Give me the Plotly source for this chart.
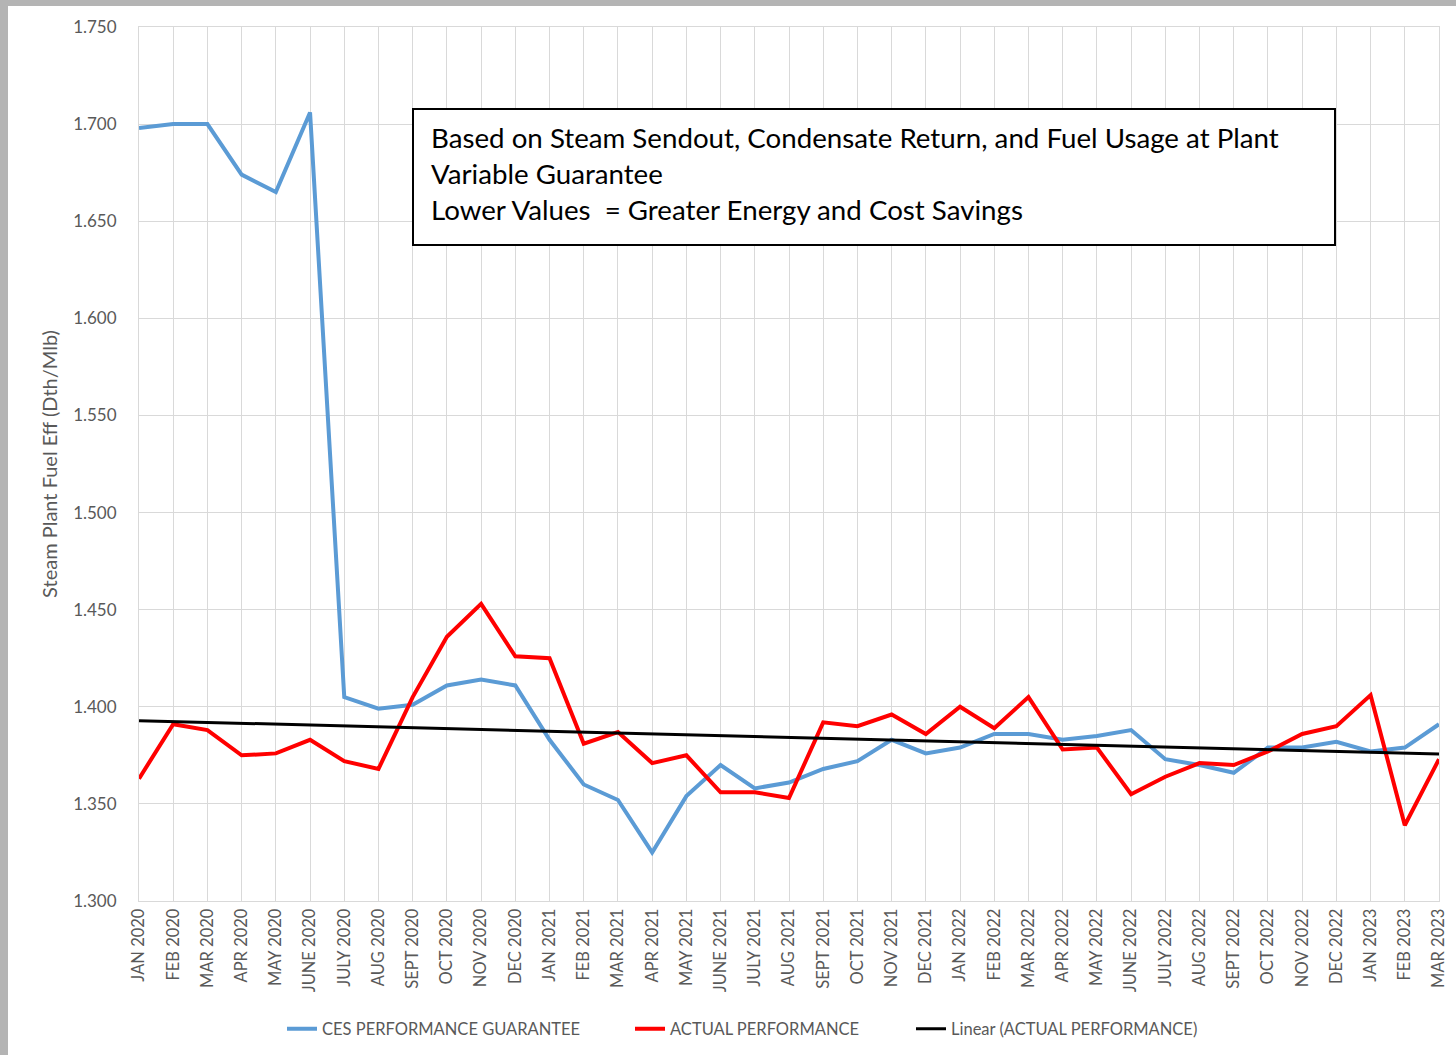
import numpy as np
import plotly.graph_objects as go

months = ["JAN 2020", "FEB 2020", "MAR 2020", "APR 2020", "MAY 2020", "JUNE 2020", "JULY 2020",
          "AUG 2020", "SEPT 2020", "OCT 2020", "NOV 2020", "DEC 2020", "JAN 2021", "FEB 2021",
          "MAR 2021", "APR 2021", "MAY 2021", "JUNE 2021", "JULY 2021", "AUG 2021", "SEPT 2021",
          "OCT 2021", "NOV 2021", "DEC 2021", "JAN 2022", "FEB 2022", "MAR 2022", "APR 2022",
          "MAY 2022", "JUNE 2022", "JULY 2022", "AUG 2022", "SEPT 2022", "OCT 2022", "NOV 2022",
          "DEC 2022", "JAN 2023", "FEB 2023", "MAR 2023"]

guarantee = [1.698, 1.700, 1.700, 1.674, 1.665, 1.706, 1.405, 1.399, 1.401, 1.411, 1.414, 1.411,
             1.383, 1.360, 1.352, 1.325, 1.354, 1.370, 1.358, 1.361, 1.368, 1.372, 1.383, 1.376,
             1.379, 1.386, 1.386, 1.383, 1.385, 1.388, 1.373, 1.370, 1.366, 1.379, 1.379, 1.382,
             1.377, 1.379, 1.391]

actual = [1.363, 1.391, 1.388, 1.375, 1.376, 1.383, 1.372, 1.368, 1.405, 1.436, 1.453, 1.426,
          1.425, 1.381, 1.387, 1.371, 1.375, 1.356, 1.356, 1.353, 1.392, 1.390, 1.396, 1.386,
          1.400, 1.389, 1.405, 1.378, 1.379, 1.355, 1.364, 1.371, 1.370, 1.377, 1.386, 1.390,
          1.406, 1.339, 1.373]

y_ticks = [1.300, 1.350, 1.400, 1.450, 1.500, 1.550, 1.600, 1.650, 1.700, 1.750]

note_lines = ["Based on Steam Sendout, Condensate Return, and Fuel Usage at Plant",
              "Variable Guarantee",
              "Lower Values  = Greater Energy and Cost Savings"]

# Linear trendline of actual performance (as Excel computes it)
idx = np.arange(1, len(actual) + 1)
slope, intercept = np.polyfit(idx, actual, 1)
trend = (slope * idx + intercept).tolist()

FONT = "Lato, 'Open Sans', sans-serif"
GRID = "#d9d9d9"
TXT = "#595959"

W, H = 1456, 1055
L, R, T, B = 139, 17, 27, 154
pw, ph = W - L - R, H - T - B


def px2x(px):
    return (px - L) / pw


def px2y(py):
    return (H - B - py) / ph


fig = go.Figure()
fig.add_trace(go.Scatter(x=months, y=guarantee, mode="lines", name="CES PERFORMANCE GUARANTEE",
                         line=dict(color="#5B9BD5", width=4), legend="legend"))
fig.add_trace(go.Scatter(x=months, y=actual, mode="lines", name="ACTUAL PERFORMANCE",
                         line=dict(color="#FF0000", width=4), legend="legend2"))
fig.add_trace(go.Scatter(x=months, y=trend, mode="lines", name="Linear (ACTUAL PERFORMANCE)",
                         line=dict(color="#000000", width=3), legend="legend3"))

shapes = [
    # grey screenshot frame (top and left)
    dict(type="rect", xref="paper", yref="paper", x0=px2x(0), x1=px2x(8), y0=px2y(H), y1=px2y(0),
         fillcolor="#b4b4b4", line=dict(width=0), layer="below"),
    dict(type="rect", xref="paper", yref="paper", x0=px2x(0), x1=px2x(W), y0=px2y(6), y1=px2y(0),
         fillcolor="#b4b4b4", line=dict(width=0), layer="below"),
    # note box
    dict(type="rect", xref="paper", yref="paper", x0=px2x(413), x1=px2x(1335), y0=px2y(245), y1=px2y(109),
         fillcolor="white", line=dict(color="black", width=2), layer="above"),
]

annotations = []
for t, cy in zip(note_lines, [137, 173, 209]):
    annotations.append(dict(text=t, xref="paper", yref="paper", x=px2x(429), y=px2y(cy),
                            xanchor="left", yanchor="middle", showarrow=False,
                            font=dict(family=FONT, size=27.7, color="#000000")))


def leg(xpx):
    return dict(orientation="h", xref="container", yref="container",
                x=xpx / W, xanchor="left", y=(H - 1029) / H, yanchor="middle",
                font=dict(family=FONT, size=16.5, color=TXT), bgcolor="rgba(0,0,0,0)")


fig.update_layout(
    width=W, height=H,
    margin=dict(l=L, r=R, t=T, b=B, autoexpand=False),
    paper_bgcolor="white", plot_bgcolor="white",
    font=dict(family=FONT, color=TXT),
    shapes=shapes,
    annotations=annotations,
    showlegend=True,
    legend=leg(282),
    legend2=leg(630),
    legend3=leg(911),
    xaxis=dict(type="category", range=[0, len(months) - 1], tickangle=-90,
               tickfont=dict(family=FONT, size=16.5, color=TXT),
               showgrid=True, gridcolor=GRID, gridwidth=1, automargin=False,
               showline=True, linecolor=GRID, mirror=True, ticks="", zeroline=False),
    yaxis=dict(range=[1.3, 1.75], tickvals=y_ticks, tickformat=".3f",
               tickfont=dict(family=FONT, size=17, color=TXT),
               showgrid=True, gridcolor=GRID, gridwidth=1, automargin=False,
               showline=True, linecolor=GRID, mirror=True, ticks="", zeroline=False,
               ticklabelstandoff=18,
               title=dict(text="Steam Plant Fuel Eff (Dth/Mlb)", font=dict(family=FONT, size=20, color=TXT),
                          standoff=10)),
)

fig.write_html("out.html", config={"displayModeBar": False},
               post_script="document.body.style.margin='0';")
